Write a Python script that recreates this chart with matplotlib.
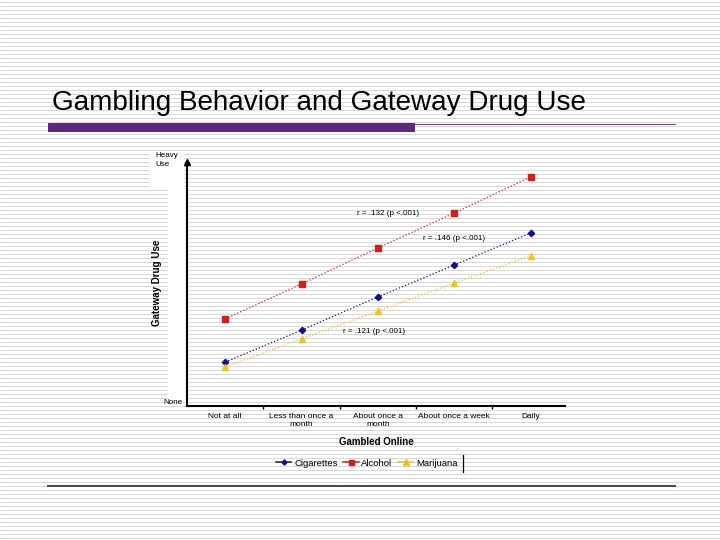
import numpy as np
import matplotlib
matplotlib.use("Agg")
import matplotlib.pyplot as plt
from matplotlib.patches import Rectangle
from matplotlib.lines import Line2D

plt.rcParams['font.family'] = ['Liberation Sans', 'DejaVu Sans']

categories = ["Not at all", "Less than once a\nmonth", "About once a\nmonth",
              "About once a week", "Daily"]
cigarettes = [1.80, 3.11, 4.47, 5.78, 7.09]
alcohol = [3.57, 5.00, 6.48, 7.91, 9.39]
marijuana = [1.60, 2.75, 3.89, 5.04, 6.15]

notes = ["r = .132 (p <.001)", "r = .146 (p <.001)", "r = .121 (p <.001)"]
note_pos = [(2.13, 7.9), (3.0, 6.85), (1.95, 3.05)]

W, H = 720, 540
fig = plt.figure(figsize=(7.2, 5.4), dpi=100)

# slide background in pixel coordinates
bg = fig.add_axes([0, 0, 1, 1])
bg.set_xlim(0, W)
bg.set_ylim(H, 0)
bg.axis('off')
bg.hlines(np.arange(1.5, H, 4), 0, W, color='#d9d9d9', lw=0.72, zorder=0)
bg.add_patch(Rectangle((168, 190), 18, 212, color='white', lw=0, zorder=1))
bg.add_patch(Rectangle((150, 152), 34, 36, color='white', lw=0, zorder=1))
bg.add_patch(Rectangle((48, 123), 367, 9, color='#5b2a7b', lw=0, zorder=2))
bg.plot([415, 675], [123.5, 123.5], color='#6d4b85', lw=0.8, zorder=2)
bg.plot([48, 675], [486, 486], color='#4a3f58', lw=1.4, zorder=2)
bg.plot([463, 463], [455, 472], color='black', lw=0.9, zorder=2)
bg.text(52, 110, "Gambling Behavior and Gateway Drug Use", fontsize=20.1,
        color='black', va='baseline', ha='left')

# chart
ax = fig.add_axes([187 / W, 1 - 406 / H, 378 / W, 244 / H])
ax.patch.set_alpha(0)
x = np.arange(len(categories))
series = [("Cigarettes", cigarettes, '#10108f', 'D', 3.2),
          ("Alcohol", alcohol, '#d81b1b', 's', 4.2),
          ("Marijuana", marijuana, '#f2c413', '^', 4.5)]
handles = []
for name, vals, col, mk, ms in series:
    ax.plot(x, vals, ls=':', lw=0.9, color=col, marker=mk, ms=ms)
    handles.append(Line2D([], [], color=col, lw=1.1, marker=mk, ms=ms - 0.6,
                          label=name))
for t, (nx, ny) in zip(notes, note_pos):
    ax.text(nx, ny, t, fontsize=5.8, ha='center', va='center')

ax.set_xlim(-0.5, 4.45)
ax.set_ylim(0, 10)
for s in ['top', 'right']:
    ax.spines[s].set_visible(False)
ax.spines['left'].set_linewidth(1.5)
ax.spines['bottom'].set_linewidth(1.5)
ax.plot([-0.5], [10], marker='^', color='black', ms=4, clip_on=False)
ax.set_yticks([])
ax.set_xticks(np.arange(0.5, 4, 1))
ax.set_xticklabels([])
ax.set_xticks(x, minor=True)
ax.set_xticklabels(categories, minor=True, fontsize=6, linespacing=1.3)
ax.tick_params(axis='x', which='major', length=2.5, width=1, direction='out')
ax.tick_params(axis='x', which='minor', length=0, pad=5)
ax.set_xlabel("Gambled Online", fontsize=7, fontweight='bold', labelpad=6)

fig.text(155 / W, 1 - 160 / H, "Heavy\nUse", fontsize=5.8, va='center',
         ha='left', linespacing=1.4)
fig.text(182 / W, 1 - 402 / H, "None", fontsize=5.8, va='center', ha='right')
fig.text(157 / W, 1 - 283 / H, "Gateway Drug Use", fontsize=7,
         fontweight='bold', rotation=90, va='center', ha='center')

fig.legend(handles=handles, loc='center', bbox_to_anchor=(367 / W, 1 - 463 / H),
           ncol=3, frameon=False, fontsize=6.8, handlelength=1.6,
           handletextpad=0.3, columnspacing=0.6)

fig.savefig("out.png", dpi=100)
